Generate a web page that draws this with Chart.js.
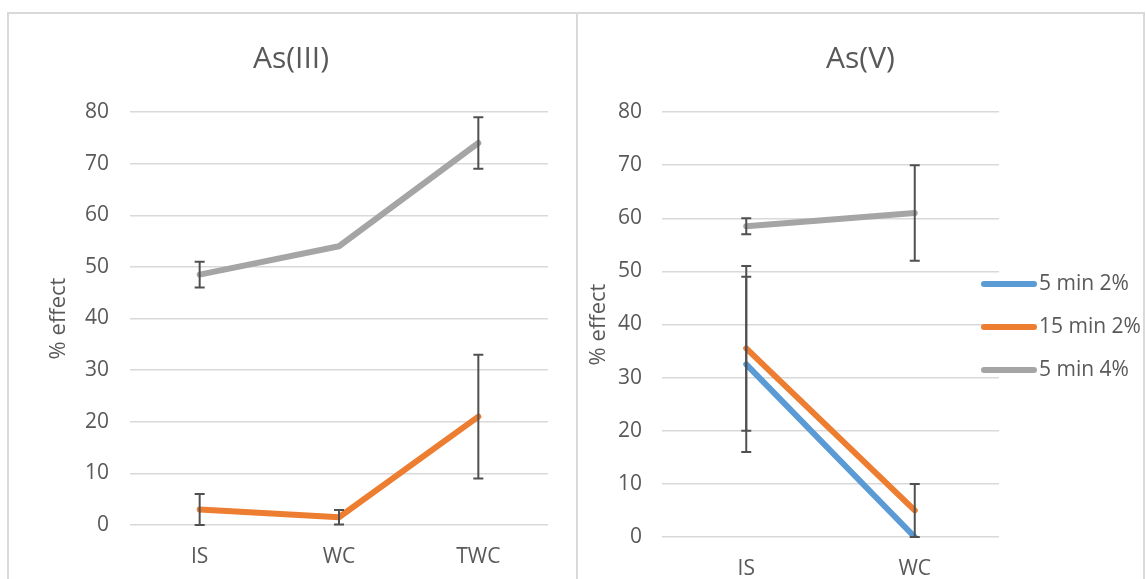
<!DOCTYPE html>
<html>
<head>
<meta charset="utf-8">
<script src="https://cdn.jsdelivr.net/npm/chart.js@4"></script>
<style>
    body { margin: 0; background: #fff; width: 1146px; height: 579px; overflow: hidden; position: relative; }
    .panel { position: absolute; box-sizing: border-box; border: 2px solid #D9D9D9; }
    canvas { position: absolute; }
</style>
</head>
<body>
<div class="panel" style="left:7px; top:12px; width:571px; height:600px;"></div>
<div class="panel" style="left:576px; top:12px; width:569px; height:600px;"></div>
<canvas id="graficoAs3" width="568" height="567" style="left:7px; top:12px;"></canvas>
<canvas id="graficoAs5" width="567" height="567" style="left:577px; top:12px;"></canvas>
<script>
// Datos
const seriesNombres = ['5 min 2%', '15 min 2%', '5 min 4%'];
const seriesColores = ['#5B9BD5', '#ED7D31', '#A5A5A5'];

// As(III)
const categoriasAs3 = ['IS', 'WC', 'TWC'];
const naranjaAs3 = [3, 1.5, 21];
const errNaranjaAs3 = [3, 1.4, 12];
const grisAs3 = [48.5, 54, 74];
const errGrisAs3 = [2.5, 0, 5];

// As(V)
const categoriasAs5 = ['IS', 'WC'];
const azulAs5 = [32.5, 0];
const errAzulAs5 = [16.5, 0];
const naranjaAs5 = [35.5, 5];
const errNaranjaAs5 = [15.5, 5];
const grisAs5 = [58.5, 61];
const errGrisAs5 = [1.5, 9];

const ejeYMin = 0, ejeYMax = 80, ejeYPaso = 10;

const colorTexto = '#595959';
const fuente = "'Open Sans', 'Noto Sans', sans-serif";

// Barras de error dibujadas con las escalas del gráfico
const barrasError = {
    id: 'barrasError',
    afterDatasetsDraw(chart) {
        const ctx = chart.ctx;
        const area = chart.chartArea;
        const xs = chart.scales.x, ys = chart.scales.y;
        ctx.save();
        ctx.beginPath();
        ctx.rect(area.left, area.top - 5, area.right - area.left, area.bottom - area.top + 6);
        ctx.clip();
        ctx.strokeStyle = '#505050';
        ctx.lineWidth = 2;
        chart.data.datasets.forEach(ds => {
            if (!ds.errores) return;
            ds.data.forEach((v, j) => {
                const e = ds.errores[j];
                if (!e) return;
                const x = xs.getPixelForValue(j);
                const yArriba = ys.getPixelForValue(v + e);
                const yAbajo = ys.getPixelForValue(v - e);
                ctx.beginPath();
                ctx.moveTo(x, yArriba); ctx.lineTo(x, yAbajo);
                ctx.moveTo(x - 5, yArriba); ctx.lineTo(x + 5, yArriba);
                ctx.moveTo(x - 5, yAbajo); ctx.lineTo(x + 5, yAbajo);
                ctx.stroke();
            });
        });
        ctx.restore();
    }
};

// Leyenda a la derecha del área del gráfico (solo As(V))
const leyendaDerecha = {
    id: 'leyendaDerecha',
    afterDraw(chart, args, opts) {
        if (!opts.display) return;
        const ctx = chart.ctx;
        const area = chart.chartArea;
        const dss = chart.data.datasets;
        const centro = (area.top + area.bottom) / 2 + 2.5;
        ctx.save();
        ctx.font = '21px ' + fuente;
        ctx.textBaseline = 'middle';
        ctx.textAlign = 'left';
        dss.forEach((ds, i) => {
            const y = centro + (i - (dss.length - 1) / 2) * 43;
            ctx.strokeStyle = ds.borderColor;
            ctx.lineWidth = 6;
            ctx.lineCap = 'round';
            ctx.beginPath();
            ctx.moveTo(area.right - 15, y);
            ctx.lineTo(area.right + 35, y);
            ctx.stroke();
            ctx.fillStyle = colorTexto;
            ctx.fillText(ds.label, area.right + 40, y);
        });
        ctx.restore();
    }
};

function serie(nombre, datos, errores) {
    const i = seriesNombres.indexOf(nombre);
    return {
        label: nombre,
        data: datos,
        errores: errores,
        borderColor: seriesColores[i],
        backgroundColor: seriesColores[i],
        borderWidth: 6,
        borderCapStyle: 'round',
        borderJoinStyle: 'round',
        pointRadius: 0,
        tension: 0
    };
}

function crearGrafico(id, titulo, categorias, datasets, cfg) {
    const ctx = document.getElementById(id).getContext('2d');
    return new Chart(ctx, {
        type: 'line',
        data: { labels: categorias, datasets: datasets },
        plugins: [barrasError, leyendaDerecha],
        options: {
            responsive: false,
            animation: false,
            layout: { padding: 0 },
            plugins: {
                legend: { display: false },
                tooltip: { enabled: false },
                leyendaDerecha: { display: cfg.leyenda },
                title: {
                    display: true,
                    text: titulo,
                    color: colorTexto,
                    font: { family: fuente, size: 30, weight: 'normal' },
                    padding: { top: 29, bottom: 35 }
                }
            },
            scales: {
                x: {
                    offset: true,
                    grid: { display: false },
                    border: { display: false },
                    ticks: { color: colorTexto, font: { family: fuente, size: 21 }, padding: 11 },
                    afterFit: s => { s.height = cfg.altoX; }
                },
                y: {
                    min: ejeYMin,
                    max: ejeYMax,
                    grid: { color: '#D9D9D9', lineWidth: 1.5, drawTicks: false },
                    border: { display: false },
                    ticks: { stepSize: ejeYPaso, color: colorTexto, font: { family: fuente, size: 21 }, padding: cfg.padTicksY },
                    title: {
                        display: true,
                        text: '% effect',
                        color: colorTexto,
                        font: { family: fuente, size: 22 },
                        padding: { top: cfg.padTituloY, bottom: 0 }
                    },
                    afterFit: s => { s.width = cfg.anchoY; }
                },
                margenDer: {
                    position: 'right',
                    display: true,
                    grid: { display: false },
                    border: { display: false },
                    ticks: { display: false },
                    afterFit: s => { s.width = cfg.anchoDer; }
                }
            }
        }
    });
}

crearGrafico('graficoAs3', 'As(III)', categoriasAs3, [
    serie('15 min 2%', naranjaAs3, errNaranjaAs3),
    serie('5 min 4%', grisAs3, errGrisAs3)
], { altoX: 54, anchoY: 123, anchoDer: 27, padTicksY: 21, padTituloY: 39, leyenda: false });

crearGrafico('graficoAs5', 'As(V)', categoriasAs5, [
    serie('5 min 2%', azulAs5, errAzulAs5),
    serie('15 min 2%', naranjaAs5, errNaranjaAs5),
    serie('5 min 4%', grisAs5, errGrisAs5)
], { altoX: 42, anchoY: 85, anchoDer: 145, padTicksY: 20, padTituloY: 9, leyenda: true });
</script>
</body>
</html>
